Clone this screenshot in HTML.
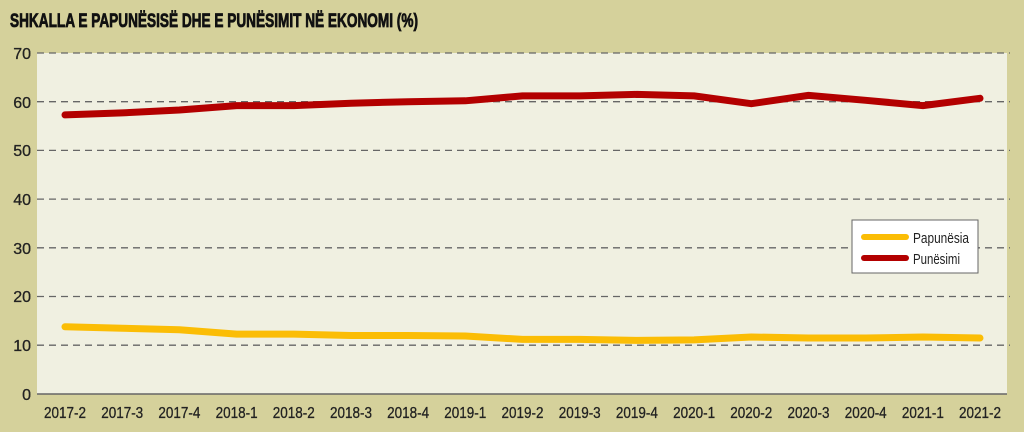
<!DOCTYPE html><html><head><style>body{margin:0}svg{display:block}text{font-family:"Liberation Sans Narrow","Liberation Sans",sans-serif}</style></head><body>
<svg width="1024" height="432" viewBox="0 0 1024 432">
<rect width="1024" height="432" fill="#d5d19b"/>
<rect x="37" y="53" width="970" height="341" fill="#f0f0e1"/>
<text x="10" y="27" font-size="19" font-weight="bold" textLength="408" lengthAdjust="spacingAndGlyphs" fill="#111" stroke="#111" stroke-width="0.8">SHKALLA E PAPUNËSISË DHE E PUNËSIMIT NË EKONOMI (%)</text>
<g stroke="#666" stroke-width="1.3" stroke-dasharray="7,5">
<line x1="37" x2="1010" y1="53" y2="53"/><line x1="37" x2="1010" y1="101.7" y2="101.7"/><line x1="37" x2="1010" y1="150.4" y2="150.4"/><line x1="37" x2="1010" y1="199.1" y2="199.1"/><line x1="37" x2="1010" y1="247.8" y2="247.8"/><line x1="37" x2="1010" y1="296.5" y2="296.5"/><line x1="37" x2="1010" y1="345.2" y2="345.2"/>
</g>
<line x1="37" x2="1007" y1="394" y2="394" stroke="#666" stroke-width="1.5"/>
<g font-size="16" fill="#222" text-anchor="end" stroke="#222" stroke-width="0.3">
<text x="31" y="59">70</text><text x="31" y="108">60</text><text x="31" y="156">50</text><text x="31" y="205">40</text><text x="31" y="254">30</text><text x="31" y="302">20</text><text x="31" y="351">10</text><text x="31" y="400">0</text>
</g>
<g font-size="16" fill="#222" stroke="#222" stroke-width="0.3">
<text x="44" y="418" textLength="42" lengthAdjust="spacingAndGlyphs">2017-2</text><text x="101.2" y="418" textLength="42" lengthAdjust="spacingAndGlyphs">2017-3</text><text x="158.4" y="418" textLength="42" lengthAdjust="spacingAndGlyphs">2017-4</text><text x="215.6" y="418" textLength="42" lengthAdjust="spacingAndGlyphs">2018-1</text><text x="272.8" y="418" textLength="42" lengthAdjust="spacingAndGlyphs">2018-2</text><text x="330" y="418" textLength="42" lengthAdjust="spacingAndGlyphs">2018-3</text><text x="387.1" y="418" textLength="42" lengthAdjust="spacingAndGlyphs">2018-4</text><text x="444.3" y="418" textLength="42" lengthAdjust="spacingAndGlyphs">2019-1</text><text x="501.5" y="418" textLength="42" lengthAdjust="spacingAndGlyphs">2019-2</text><text x="558.7" y="418" textLength="42" lengthAdjust="spacingAndGlyphs">2019-3</text><text x="615.9" y="418" textLength="42" lengthAdjust="spacingAndGlyphs">2019-4</text><text x="673.1" y="418" textLength="42" lengthAdjust="spacingAndGlyphs">2020-1</text><text x="730.3" y="418" textLength="42" lengthAdjust="spacingAndGlyphs">2020-2</text><text x="787.5" y="418" textLength="42" lengthAdjust="spacingAndGlyphs">2020-3</text><text x="844.7" y="418" textLength="42" lengthAdjust="spacingAndGlyphs">2020-4</text><text x="901.9" y="418" textLength="42" lengthAdjust="spacingAndGlyphs">2021-1</text><text x="959" y="418" textLength="42" lengthAdjust="spacingAndGlyphs">2021-2</text>
</g>
<polyline fill="none" stroke="#b30000" stroke-width="7" stroke-linecap="round" stroke-linejoin="round" points="65,114.9 122.2,112.9 179.4,110 236.6,105.6 293.8,105.6 351,103.2 408.1,101.7 465.3,100.8 522.5,95.9 579.7,95.9 636.9,94.4 694.1,95.9 751.3,103.7 808.5,95.4 865.7,100.3 922.9,105.6 980,98.3"/>
<polyline fill="none" stroke="#fbbd05" stroke-width="7" stroke-linecap="round" stroke-linejoin="round" points="65,326.8 122.2,328.2 179.4,329.7 236.6,334.1 293.8,334.1 351,335.5 408.1,335.5 465.3,336 522.5,339.4 579.7,339.4 636.9,340.4 694.1,339.9 751.3,337 808.5,338 865.7,338 922.9,337 980,338"/>
<rect x="852" y="220" width="126" height="53" fill="#fff" stroke="#666" stroke-width="1"/>
<line x1="864" x2="906" y1="237" y2="237" stroke="#fbbd05" stroke-width="6" stroke-linecap="round"/>
<line x1="864" x2="906" y1="258" y2="258" stroke="#b30000" stroke-width="6" stroke-linecap="round"/>
<text x="913" y="243" font-size="15" fill="#222" textLength="56" lengthAdjust="spacingAndGlyphs">Papunësia</text>
<text x="913" y="264" font-size="15" fill="#222" textLength="47" lengthAdjust="spacingAndGlyphs">Punësimi</text>
</svg></body></html>
